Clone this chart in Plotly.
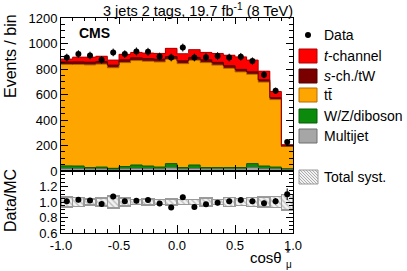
import plotly.graph_objects as go

# ---------------- data ----------------
bin_centers = [-0.95, -0.85, -0.75, -0.65, -0.55, -0.45, -0.35, -0.25, -0.15, -0.05,
               0.05, 0.15, 0.25, 0.35, 0.45, 0.55, 0.65, 0.75, 0.85, 0.95]
bin_edges = [-1.0, -0.9, -0.8, -0.7, -0.6, -0.5, -0.4, -0.3, -0.2, -0.1, 0.0,
             0.1, 0.2, 0.3, 0.4, 0.5, 0.6, 0.7, 0.8, 0.9, 1.0]

multijet = [18, 18, 16, 17, 10, 17, 20, 18, 16, 25, 15, 20, 16, 16, 16, 16, 27, 18, 16, 12]
wz_diboson = [22, 21, 11, 14, 11, 18, 27, 21, 15, 33, 12, 27, 11, 11, 11, 11, 31, 21, 15, 6]
ttbar = [795, 796, 805, 807, 789, 815, 819, 821, 824, 817, 815, 821, 823, 803, 778, 750, 700, 658, 529, 174]
s_ch_tw = [20, 21, 21, 21, 20, 22, 22, 22, 22, 23, 22, 23, 22, 22, 21, 20, 20, 18, 15, 5]
t_channel = [23, 37, 40, 41, 40, 43, 42, 43, 45, 64, 56, 61, 58, 70, 82, 98, 92, 68, 49, 10]

data = [890, 917, 906, 872, 930, 917, 938, 935, 898, 890, 968, 890, 893, 902, 890, 896, 862, 755, 629, 228]
data_err = [30, 30, 30, 30, 30, 30, 31, 31, 30, 30, 31, 30, 30, 30, 30, 30, 29, 27, 25, 15]

ratio = [1.01, 1.03, 1.02, 0.975, 1.07, 1.01, 1.015, 1.025, 0.98, 0.93,
         1.06, 0.935, 0.97, 0.99, 1.01, 1.025, 1.01, 0.985, 1.01, 1.10]
ratio_err = [0.034, 0.034, 0.034, 0.033, 0.035, 0.033, 0.033, 0.033, 0.033, 0.031,
             0.034, 0.031, 0.032, 0.033, 0.033, 0.034, 0.034, 0.035, 0.040, 0.075]
syst = [0.065, 0.055, 0.04, 0.05, 0.08, 0.05, 0.035, 0.04, 0.035, 0.04,
        0.03, 0.03, 0.05, 0.035, 0.06, 0.045, 0.055, 0.065, 0.07, 0.10]

top_ticks = [0, 200, 400, 600, 800, 1000, 1200]
ratio_ticks = [0.6, 0.8, 1.0, 1.2]
ratio_ticktext = ["0.6", "0.8", "1.0", "1.2"]
x_ticks = [-1.0, -0.5, 0.0, 0.5, 1.0]
x_ticktext = ["-1.0", "-0.5", "0.0", "0.5", "1.0"]

components = [
    ("Multijet", multijet, "#a6a6a6", "#6e6e6e"),
    ("W/Z/diboson", wz_diboson, "#0b8a0b", "#055a05"),
    ("tt\u0304", ttbar, "#ffa500", "#b36b00"),
    ("s-ch./tW", s_ch_tw, "#7a0000", "#500000"),
    ("t-channel", t_channel, "#ff0000", "#b00000"),
]

# ---------------- geometry (pixels) ----------------
W, H = 407, 271
L, R, T, B = 61, 114, 18, 38
PW = W - L - R
PH = H - T - B
BOUND = (H - B - 171) / PH  # split between panels


def px(x):
    return (x - L) / PW


def py(y):
    return (H - B - y) / PH


FONT = "Liberation Sans, Arial, Helvetica, sans-serif"

fig = go.Figure()

# stacked histogram
cum = [0] * len(bin_centers)
for name, vals, col, edge in components:
    fig.add_trace(go.Bar(x=bin_centers, y=vals, width=0.1, marker=dict(color=col, line=dict(width=0)),
                         xaxis="x", yaxis="y", showlegend=False, name=name))
    cum = [c + v for c, v in zip(cum, vals)]
    fig.add_trace(go.Scatter(x=bin_edges, y=cum + [cum[-1]], mode="lines",
                             line=dict(color=edge, width=1, shape="hv"),
                             xaxis="x", yaxis="y", showlegend=False, hoverinfo="skip"))

# data
fig.add_trace(go.Scatter(x=bin_centers, y=data, mode="markers",
                         marker=dict(color="black", size=6),
                         error_y=dict(type="data", array=data_err, color="black", thickness=1, width=0),
                         xaxis="x", yaxis="y", showlegend=False))

# ratio syst band
fig.add_trace(go.Bar(x=bin_centers, y=[2 * s for s in syst], base=[1 - s for s in syst], width=0.1,
                     marker=dict(color="#f2f2f2",
                                 pattern=dict(shape="\\", fgcolor="#8c8c8c", bgcolor="#f2f2f2",
                                              size=4, solidity=0.35),
                                 line=dict(color="#9a9a9a", width=1.5)),
                     xaxis="x2", yaxis="y2", showlegend=False))
fig.add_trace(go.Scatter(x=bin_centers, y=ratio, mode="markers",
                         marker=dict(color="black", size=6),
                         error_y=dict(type="data", array=ratio_err, color="black", thickness=1, width=0),
                         xaxis="x2", yaxis="y2", showlegend=False))

axis_common = dict(showline=True, linecolor="black", linewidth=1, mirror="allticks",
                   ticks="inside", tickcolor="black", showgrid=False, zeroline=False,
                   tickfont=dict(family=FONT, size=13, color="black"))

fig.update_layout(
    width=W, height=H, margin=dict(l=L, r=R, t=T, b=B),
    paper_bgcolor="white", plot_bgcolor="white", barmode="stack", bargap=0,
    font=dict(family=FONT, color="black"),
    xaxis=dict(domain=[0, 1], anchor="y", range=[-1, 1], tickvals=x_ticks, showticklabels=False,
               ticklen=6, minor=dict(dtick=0.1, tick0=-1, ticklen=3, ticks="inside", tickcolor="black"),
               **axis_common),
    yaxis=dict(domain=[BOUND, 1], anchor="x", range=[0, 1200], tickvals=top_ticks,
               ticklen=7, minor=dict(dtick=50, tick0=0, ticklen=4, ticks="inside", tickcolor="black"),
               **axis_common),
    xaxis2=dict(domain=[0, 1], anchor="y2", range=[-1, 1], tickvals=x_ticks, ticktext=x_ticktext,
                ticklen=8, minor=dict(dtick=0.1, tick0=-1, ticklen=4, ticks="inside", tickcolor="black"),
                **axis_common),
    yaxis2=dict(domain=[0, BOUND], anchor="x2", range=[0.6, 1.4], tickvals=ratio_ticks,
                ticktext=ratio_ticktext, ticklen=7,
                minor=dict(dtick=0.05, tick0=0.6, ticklen=4, ticks="inside", tickcolor="black"),
                **axis_common),
)

# line at 1 in ratio
fig.add_shape(type="line", xref="x2", yref="y2", x0=-1, x1=1, y0=1, y1=1,
              line=dict(color="#555555", width=1), layer="below")

ann = []
ann.append(dict(text="3 jets 2 tags, 19.7 fb<sup>-1</sup> (8 TeV)", x=px(295), y=py(10), xref="paper", yref="paper",
                xanchor="right", yanchor="middle", showarrow=False, font=dict(size=14.5, family=FONT)))
ann.append(dict(text="<b>CMS</b>", x=px(77), y=py(33), xref="paper", yref="paper",
                xanchor="left", yanchor="middle", showarrow=False, font=dict(size=14, family=FONT)))
ann.append(dict(text="Events / bin", x=px(10), y=py(56), xref="paper", yref="paper", textangle=-90,
                xanchor="center", yanchor="middle", showarrow=False, font=dict(size=16, family=FONT)))
ann.append(dict(text="Data/MC", x=px(10), y=py(201), xref="paper", yref="paper", textangle=-90,
                xanchor="center", yanchor="middle", showarrow=False, font=dict(size=16, family=FONT)))
ann.append(dict(text="cosθ", x=px(284), y=py(257), xref="paper", yref="paper",
                xanchor="right", yanchor="middle", showarrow=False, font=dict(size=15, family=FONT)))
ann.append(dict(text="*", x=px(284), y=py(253), xref="paper", yref="paper",
                xanchor="left", yanchor="middle", showarrow=False, font=dict(size=10, family=FONT)))
ann.append(dict(text="μ", x=px(284), y=py(264), xref="paper", yref="paper",
                xanchor="left", yanchor="middle", showarrow=False, font=dict(size=10, family=FONT)))

# legend (manual)
BX0, BX1 = 299, 317
legend_items = [
    ("<i>t</i>-channel", 56, "#ff0000", "#b00000"),
    ("<i>s</i>-ch./tW", 76, "#7a0000", "#500000"),
    ("tt\u0304", 95, "#ffa500", "#b36b00"),
    ("W/Z/diboson", 116, "#0b8a0b", "#055a05"),
    ("Multijet", 136, "#a6a6a6", "#6e6e6e"),
]
shapes = []
for label, yc, col, edge in legend_items:
    shapes.append(dict(type="rect", xref="paper", yref="paper", x0=px(BX0), x1=px(BX1),
                       y0=py(yc + 7), y1=py(yc - 7), fillcolor=col, line=dict(color=edge, width=1)))
    ann.append(dict(text=label, x=px(322), y=py(yc), xref="paper", yref="paper",
                    xanchor="left", yanchor="middle", showarrow=False, font=dict(size=14, family=FONT)))
# data legend
shapes.append(dict(type="circle", xref="paper", yref="paper", x0=px(305), x1=px(311),
                   y0=py(38), y1=py(32), fillcolor="black", line=dict(color="black", width=0)))
ann.append(dict(text="Data", x=px(322), y=py(35), xref="paper", yref="paper",
                xanchor="left", yanchor="middle", showarrow=False, font=dict(size=14, family=FONT)))
# total syst legend (hatched box)
sy0, sy1 = 170, 184
shapes.append(dict(type="rect", xref="paper", yref="paper", x0=px(BX0), x1=px(BX1 + 1),
                   y0=py(sy1), y1=py(sy0), fillcolor="#f2f2f2", line=dict(color="#9a9a9a", width=1)))
bw, bh = BX1 + 1 - BX0, sy1 - sy0
c = -bh
while c < bw:
    ys = max(0, -c)
    ye = min(bh, bw - c)
    if ye > ys:
        shapes.append(dict(type="line", xref="paper", yref="paper",
                           x0=px(BX0 + ys + c), y0=py(sy0 + ys), x1=px(BX0 + ye + c), y1=py(sy0 + ye),
                           line=dict(color="#9a9a9a", width=0.8)))
    c += 3
ann.append(dict(text="Total syst.", x=px(322), y=py(177), xref="paper", yref="paper",
                xanchor="left", yanchor="middle", showarrow=False, font=dict(size=14, family=FONT)))

for s in shapes:
    fig.add_shape(**s)
fig.update_layout(annotations=ann)

fig.write_html("out.html", config={"displayModeBar": False, "staticPlot": True},
               post_script="document.body.style.margin='0';document.body.style.overflow='hidden';")
